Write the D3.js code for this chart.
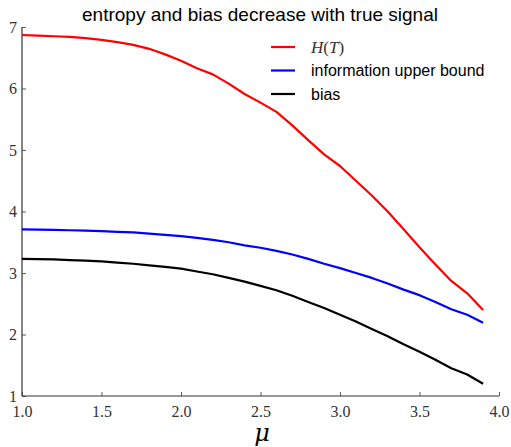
<!DOCTYPE html>
<html><head><meta charset="utf-8">
<script src="https://cdn.jsdelivr.net/npm/d3@7"></script>
<style>body{margin:0;background:#fff}
.tick text{font-family:'Liberation Serif',serif !important;font-size:16px}
</style>
</head><body>
<svg id="c" width="511" height="447"></svg>
<script>
const mu = [1.0,1.1,1.2,1.3,1.4,1.5,1.6,1.7,1.8,1.9,2.0,2.1,2.2,2.3,2.4,2.5,2.6,2.7,2.8,2.9,3.0,3.1,3.2,3.3,3.4,3.5,3.6,3.7,3.8,3.9];
const entropy = [6.87,6.86,6.85,6.84,6.82,6.79,6.755,6.71,6.645,6.555,6.45,6.33,6.23,6.08,5.91,5.77,5.62,5.40,5.16,4.93,4.74,4.50,4.26,4.00,3.71,3.42,3.14,2.87,2.67,2.40];
const infoBound = [3.71,3.705,3.70,3.695,3.69,3.68,3.67,3.66,3.64,3.62,3.60,3.57,3.54,3.50,3.45,3.41,3.36,3.30,3.23,3.15,3.08,3.00,2.92,2.83,2.73,2.64,2.53,2.41,2.32,2.19];
const bias = [3.23,3.225,3.22,3.21,3.20,3.19,3.17,3.15,3.125,3.10,3.07,3.025,2.98,2.92,2.86,2.79,2.72,2.63,2.53,2.43,2.32,2.21,2.09,1.97,1.84,1.72,1.59,1.45,1.35,1.20];
const xTicks = [1.0,1.5,2.0,2.5,3.0,3.5,4.0];
const yTicks = [1,2,3,4,5,6,7];
const seriesNames = ["H(T)","information upper bound","bias"];
const seriesColors = ["#ff0000","#0000ff","#000000"];

const svg = d3.select("#c");
const L = 22, R = 499, T = 27, B = 396;
const x = d3.scaleLinear().domain([1,4]).range([L,R]);
const y = d3.scaleLinear().domain([1,7]).range([B,T]);

const serif = "'DejaVu Serif',serif";
const sans = "'Liberation Sans',Arial,sans-serif";

const xAxis = d3.axisBottom(x).tickValues(xTicks).tickSize(-4).tickPadding(7).tickFormat(d3.format(".1f"));
const yAxis = d3.axisLeft(y).tickValues(yTicks).tickSize(-4).tickPadding(5).tickFormat(d3.format("d"));
const gx = svg.append("g").attr("transform",`translate(0,${B})`).call(xAxis);
const gy = svg.append("g").attr("transform",`translate(${L},0)`).call(yAxis);
[gx,gy].forEach(g=>{
  g.attr("font-family",null).attr("font-size",null);
  g.select(".domain").attr("stroke","#333").attr("stroke-width",1.2);
  g.selectAll(".tick line").attr("stroke","#333").attr("stroke-width",0.8);
  g.selectAll(".tick text").attr("fill","#333");
});
gx.select(".domain").attr("d",`M${L},0H${R}`);
gy.select(".domain").attr("d",`M0,${B}V${T}`);
gx.selectAll(".tick text").attr("dy","0.9em");

const line = d3.line().x((d,i)=>x(mu[i])).y(d=>y(d));
[entropy,infoBound,bias].forEach((s,k)=>{
  svg.append("path").datum(s).attr("d",line).attr("fill","none")
    .attr("stroke",seriesColors[k]).attr("stroke-width",2.2).attr("stroke-linejoin","round");
});

svg.append("text").attr("x",260).attr("y",21).attr("text-anchor","middle")
  .style("font-family",sans).style("font-size","19px").text("entropy and bias decrease with true signal");

svg.append("text").attr("x",262).attr("y",441).attr("text-anchor","middle")
  .style("font-family",serif).style("font-style","italic").style("font-size","24px").text("μ");

const lg = svg.append("g");
seriesNames.forEach((n,k)=>{
  const yy = 47 + k*23.5;
  lg.append("line").attr("x1",271).attr("x2",295).attr("y1",yy).attr("y2",yy)
    .attr("stroke",seriesColors[k]).attr("stroke-width",2.2);
  const t = lg.append("text").attr("x",311).attr("y",yy+5.5);
  if(k===0){
    t.style("font-family","'Liberation Serif',serif").style("font-size","17px").attr("fill","#333");
    t.append("tspan").style("font-style","italic").text("H");
    t.append("tspan").text("(");
    t.append("tspan").style("font-style","italic").text("T");
    t.append("tspan").text(")");
  } else {
    t.style("font-family",sans).style("font-size","16px").text(n);
  }
});
</script>
</body></html>
